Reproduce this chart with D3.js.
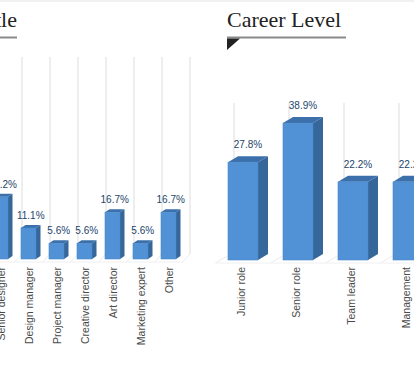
<!DOCTYPE html>
<html>
<head>
<meta charset="utf-8">
<script src="https://cdn.jsdelivr.net/npm/d3@7"></script>
<style>
  body { margin: 0; background: #fff; }
  svg { display: block; }
</style>
</head>
<body>
<svg id="chart" width="414" height="366"></svg>
<script>
// left panel (cut off on the left edge)
var roleTitle = "Job Title";
var roleCats = ["Senior designer", "Design manager", "Project manager", "Creative director", "Art director", "Marketing expert", "Other"];
var roleVals = [22.2, 11.1, 5.6, 5.6, 16.7, 5.6, 16.7];

// right panel
var levelTitle = "Career Level";
var levelCats = ["Junior role", "Senior role", "Team leader", "Management"];
var levelVals = [27.8, 38.9, 22.2, 22.2];

var svg = d3.select("#chart");

// faint frame line at the very top
svg.append("line")
    .attr("x1", 0).attr("x2", 414).attr("y1", 1).attr("y2", 1)
    .attr("stroke", "#ededed").attr("stroke-width", 1.5);

function title(txt, x, anchor, lineX1, lineX2, flag) {
  svg.append("text")
      .attr("x", x).attr("y", 27)
      .attr("text-anchor", anchor)
      .attr("font-family", "'Liberation Serif', 'DejaVu Serif', serif")
      .attr("font-size", 22)
      .attr("fill", "#222")
      .text(txt);
  svg.append("line")
      .attr("x1", lineX1).attr("x2", lineX2).attr("y1", 37.5).attr("y2", 37.5)
      .attr("stroke", "#8a8a8a").attr("stroke-width", 2);
  if (flag) {
    svg.append("path")
        .attr("d", "M" + lineX1 + ",38.5L" + (lineX1 + 13) + ",38.5L" + lineX1 + ",50Z")
        .attr("fill", "#222");
  }
}

title(roleTitle, 17, "end", 0, 17, false);
title(levelTitle, 227, "start", 227, 346, true);

// one 3d column chart
function columnChart(o) {
  var x = d3.scaleBand().domain(o.cats).range(o.xRange);
  var y = d3.scaleLinear().domain([0, 100]).range([o.base, o.base - 100 * o.pxPer]);
  var bw = o.barW;
  var g = svg.append("g");

  // back wall grid lines at category boundaries
  var bounds = o.cats.map(function(c) { return x(c); });
  bounds.push(o.xRange[1]);
  g.selectAll(".grid")
    .data(bounds)
    .enter().append("line")
      .attr("x1", function(d) { return d + o.wallDx; })
      .attr("x2", function(d) { return d + o.wallDx; })
      .attr("y1", o.gridTop)
      .attr("y2", o.base + o.wallDy)
      .attr("stroke", "#e8e8e8").attr("stroke-width", 1.5);

  // floor lines
  g.selectAll(".floor")
    .data(bounds)
    .enter().append("line")
      .attr("x1", function(d) { return d; })
      .attr("x2", function(d) { return d + o.wallDx; })
      .attr("y1", o.base + 3)
      .attr("y2", o.base + o.wallDy)
      .attr("stroke", "#ececec").attr("stroke-width", 1);
  g.append("line")
      .attr("x1", o.xRange[0]).attr("x2", o.xRange[1])
      .attr("y1", o.base + 3).attr("y2", o.base + 3)
      .attr("stroke", "#f0f0f0").attr("stroke-width", 1);

  var data = o.cats.map(function(c, i) { return { cat: c, val: o.vals[i] }; });
  var bars = g.selectAll(".bar").data(data).enter().append("g");
  function left(d) { return x(d.cat) + x.bandwidth() / 2 - bw / 2; }

  // side face
  bars.append("path")
      .attr("d", function(d) {
        var x0 = left(d) + bw, yt = y(d.val);
        return "M" + x0 + "," + yt + "l" + o.dx + "," + o.dy + "V" + (o.base + o.dy) +
               "l" + (-o.dx) + "," + (-o.dy) + "Z";
      })
      .attr("fill", "#36679a");
  // top face
  bars.append("path")
      .attr("d", function(d) {
        var x0 = left(d), yt = y(d.val);
        return "M" + x0 + "," + yt + "l" + o.dx + "," + o.dy + "h" + bw +
               "l" + (-o.dx) + "," + (-o.dy) + "Z";
      })
      .attr("fill", "#3b70ab");
  // front face
  bars.append("rect")
      .attr("x", left)
      .attr("y", function(d) { return y(d.val); })
      .attr("width", bw)
      .attr("height", function(d) { return o.base - y(d.val); })
      .attr("fill", "#5192d6")
      .attr("stroke", "#4a86c6").attr("stroke-width", 0.6);

  // value labels
  bars.append("text")
      .attr("x", function(d) { return x(d.cat) + x.bandwidth() / 2 + o.dx / 2; })
      .attr("y", function(d) { return y(d.val) + o.dy - o.labelGap; })
      .attr("text-anchor", "middle")
      .attr("font-family", "'Liberation Sans', Arial, sans-serif")
      .attr("font-size", 10)
      .attr("fill", "#24456a")
      .text(function(d) { return d.val.toFixed(1) + "%"; });

  // category labels, rotated
  bars.append("text")
      .attr("transform", function(d) {
        return "translate(" + (x(d.cat) + x.bandwidth() / 2 + o.catShift) + "," + o.catTop + ") rotate(-90)";
      })
      .attr("text-anchor", "end")
      .attr("dy", "0.35em")
      .attr("font-family", "'Liberation Sans', Arial, sans-serif")
      .attr("font-size", 10.5)
      .attr("fill", "#4a4a4a")
      .text(function(d) { return d.cat; });
}

columnChart({
  cats: roleCats, vals: roleVals,
  xRange: [-13.5, 182.5], base: 259, pxPer: 2.8, barW: 15,
  dx: 4.5, dy: -3, wallDx: 7.5, wallDy: -5, gridTop: 57,
  labelGap: 6, catTop: 267, catShift: 0.5
});

columnChart({
  cats: levelCats, vals: levelVals,
  xRange: [215.5, 435.5], base: 260, pxPer: 3.52, barW: 30,
  dx: 10, dy: -6, wallDx: 18.5, wallDy: -8, gridTop: 103,
  labelGap: 8, catTop: 267, catShift: -2
});
</script>
</body>
</html>
